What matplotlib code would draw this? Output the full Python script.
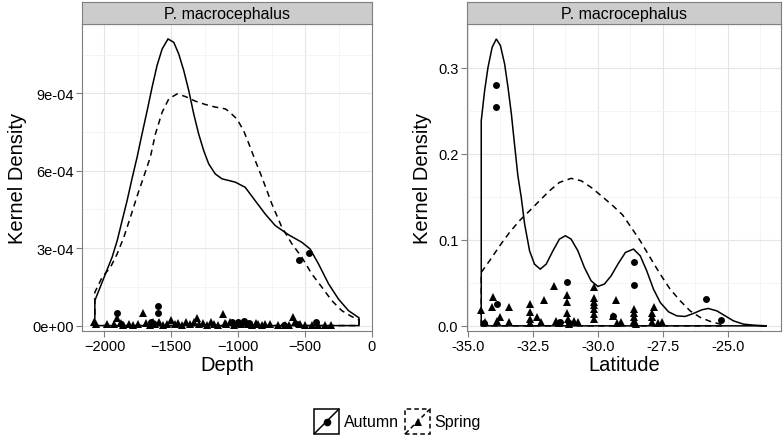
import matplotlib.pyplot as plt
from matplotlib.patches import Rectangle
from matplotlib.lines import Line2D
import numpy as np

plt.rcParams['font.family'] = ['Liberation Sans', 'DejaVu Sans']

# ---- depth panel: density outlines (density in 1e-4 units)
depth_autumn_x = [-2072, -2072, -2042, -1993, -1943, -1905, -1868, -1831, -1793, -1756,
                  -1719, -1681, -1644, -1607, -1569, -1525, -1482, -1445, -1407, -1370,
                  -1333, -1296, -1258, -1221, -1172, -1122, -1022, -948, -873, -799,
                  -724, -624, -525, -463, -400, -325, -251, -176, -97, -97]
depth_autumn_y = [0, 0.97, 1.36, 2.00, 2.65, 3.29, 4.07, 4.84, 5.72, 6.53,
                  7.43, 8.33, 9.24, 10.08, 10.72, 11.11, 10.98, 10.53, 9.88, 9.11,
                  8.21, 7.43, 6.78, 6.27, 5.88, 5.69, 5.56, 5.36, 4.84, 4.33,
                  3.88, 3.52, 3.23, 2.97, 2.39, 1.62, 1.03, 0.58, 0.30, 0]
depth_spring_x = [-2072, -2072, -2017, -1955, -1905, -1855, -1806, -1756, -1706,
                  -1657, -1619, -1569, -1519, -1457, -1396, -1321, -1246, -1172, -1097,
                  -1072, -1010, -960, -910, -873, -823, -749, -674, -599, -525,
                  -450, -375, -301, -226, -152, -97, -97]
depth_spring_y = [0, 1.29, 1.88, 2.26, 2.78, 3.43, 4.20, 5.02, 5.78,
                  6.53, 7.43, 8.27, 8.79, 8.98, 8.88, 8.70, 8.57, 8.47, 8.40,
                  8.31, 8.01, 7.56, 6.91, 6.40, 5.75, 4.72, 3.81, 3.17, 2.65,
                  2.00, 1.49, 0.97, 0.58, 0.35, 0.22, 0]

depth_pts_autumn_x = [-1907, -1602, -1602, -547, -470, -415, -1880, -1650, -1630,
                      -1050, -1000, -960, -920, -660, -560]
depth_pts_autumn_y = [0.48, 0.74, 0.48, 2.55, 2.81, 0.13, 0.05, 0.15, 0.08,
                      0.12, 0.15, 0.18, 0.10, 0.03, 0.05]
depth_pts_spring_x = [-2075, -2060, -1982, -1930, -1907, -1880, -1860, -1820, -1790, -1750,
                      -1709, -1690, -1660, -1640, -1620, -1590, -1560, -1530, -1500, -1470,
                      -1450, -1420, -1390, -1360, -1330, -1310, -1290, -1260, -1230, -1200,
                      -1180, -1150, -1116, -1100, -1090, -1060, -1030, -1000, -980, -960,
                      -930, -900, -870, -850, -820, -800, -760, -700, -650, -620,
                      -590, -575, -540, -500, -450, -400, -350, -310]
depth_pts_spring_y = [0.12, 0.05, 0.05, 0.08, 0.30, 0.10, 0.04, 0.06, 0.02, 0.08,
                      0.48, 0.10, 0.03, 0.12, 0.06, 0.15, 0.04, 0.08, 0.20, 0.05,
                      0.10, 0.03, 0.12, 0.06, 0.15, 0.29, 0.05, 0.10, 0.03, 0.12,
                      0.08, 0.04, 0.44, 0.10, 0.06, 0.15, 0.03, 0.10, 0.05, 0.12,
                      0.08, 0.04, 0.10, 0.06, 0.03, 0.08, 0.05, 0.04, 0.02, 0.03,
                      0.35, 0.12, 0.05, 0.03, 0.04, 0.03, 0.03, 0.03]

# ---- latitude panel
lat_autumn_x = [-34.49, -34.49, -34.36, -34.23, -34.07, -33.91, -33.75, -33.59, -33.46, -33.33,
                -33.21, -33.08, -32.95, -32.82, -32.63, -32.44, -32.22, -31.99, -31.73, -31.48,
                -31.25, -31.03, -30.77, -30.52, -30.26, -30.00, -29.75, -29.49, -29.23, -28.94,
                -28.63, -28.37, -28.12, -27.86, -27.60, -27.28, -26.96, -26.64, -26.32, -26.00,
                -25.75, -25.42, -25.10, -24.78, -24.40, -24.01, -23.50]
lat_autumn_y = [0, 0.2384, 0.2733, 0.3004, 0.3237, 0.3334, 0.3256, 0.3043, 0.2772, 0.2462,
                0.2113, 0.1745, 0.1493, 0.1183, 0.0872, 0.0717, 0.0659, 0.0717, 0.0872, 0.1008,
                0.1047, 0.1008, 0.0872, 0.0679, 0.0523, 0.0458, 0.0485, 0.0581, 0.0717, 0.0853,
                0.0892, 0.0814, 0.0640, 0.0427, 0.0272, 0.0163, 0.0116, 0.0109, 0.0144, 0.0186,
                0.0202, 0.0174, 0.0116, 0.0058, 0.0020, 0.0008, 0]
lat_spring_x = [-34.49, -34.49, -34.17, -33.78, -33.40, -33.02, -32.63, -32.25, -31.86, -31.48,
                -31.03, -30.64, -30.26, -29.87, -29.42, -29.05, -28.76, -28.37, -27.99, -27.60,
                -27.22, -26.83, -26.45, -26.06, -25.67, -25.29, -25.15]
lat_spring_y = [0, 0.0621, 0.0756, 0.0930, 0.1086, 0.1221, 0.1337, 0.1453, 0.1570, 0.1667,
                0.1714, 0.1686, 0.1609, 0.1512, 0.1395, 0.1290, 0.1163, 0.0988, 0.0795, 0.0601,
                0.0427, 0.0291, 0.0174, 0.0098, 0.0051, 0.0020, 0]

lat_pts_autumn_x = [-33.91, -33.91, -31.19, -28.6, -28.6, -25.83, -25.26, -33.9, -34.4,
                    -31.45, -31.1, -29.4]
lat_pts_autumn_y = [0.280, 0.2547, 0.0504, 0.0745, 0.0477, 0.031, 0.0066, 0.025, 0.003,
                    0.005, 0.003, 0.012]
lat_pts_spring_x = [-34.5, -34.36, -34.02, -34.08, -33.75, -33.9, -33.44, -33.44,
                    -32.63, -32.63, -32.63, -32.63, -32.07, -32.35, -32.2,
                    -31.68, -31.6, -31.5, -31.19, -31.19, -31.19, -31.15, -31.1, -30.75, -30.9,
                    -30.14, -30.14, -30.14, -30.14, -30.14, -30.14, -30.14,
                    -29.3, -29.4, -29.1, -29.25,
                    -28.6, -28.6, -28.6, -28.6, -28.55,
                    -27.85, -27.9, -27.9, -27.9, -27.54, -27.7]
lat_pts_spring_y = [0.018, 0.004, 0.034, 0.022, 0.010, 0.006, 0.022, 0.004,
                    0.025, 0.016, 0.008, 0.003, 0.030, 0.010, 0.004,
                    0.046, 0.006, 0.003, 0.036, 0.028, 0.015, 0.008, 0.002, 0.004, 0.006,
                    0.045, 0.032, 0.028, 0.024, 0.020, 0.014, 0.008,
                    0.030, 0.012, 0.005, 0.003,
                    0.020, 0.015, 0.010, 0.006, 0.002,
                    0.022, 0.015, 0.010, 0.005, 0.004, 0.003]

W, H = 784, 439
fig = plt.figure(figsize=(W / 100, H / 100), dpi=100)

def px_axes(x0, y0, x1, y1):
    return fig.add_axes([x0 / W, 1 - y1 / H, (x1 - x0) / W, (y1 - y0) / H])

def style(ax, xmaj, xmin_, ymaj, ymin_):
    ax.set_xticks(xmaj)
    ax.set_xticks(xmin_, minor=True)
    ax.set_yticks(ymaj)
    ax.set_yticks(ymin_, minor=True)
    ax.grid(True, which='major', color='#e5e5e5', lw=0.8)
    ax.grid(True, which='minor', color='#f2f2f2', lw=0.6)
    ax.set_axisbelow(True)
    for s in ax.spines.values():
        s.set_color('#7f7f7f')
        s.set_linewidth(0.8)
    ax.tick_params(which='major', length=4, color='#7f7f7f', width=0.8,
                   labelsize=10.5, labelcolor='black', pad=2)
    ax.tick_params(which='minor', length=0)

def strip(x0, x1, label):
    s = px_axes(x0, 3, x1, 25)
    s.set_facecolor('#cccccc')
    s.set_xticks([])
    s.set_yticks([])
    for sp in s.spines.values():
        sp.set_color('#7f7f7f')
        sp.set_linewidth(0.8)
    s.text(0.5, 0.5, label, ha='center', va='center', fontsize=11.5,
           transform=s.transAxes)

# left panel
ax1 = px_axes(82, 25, 372, 332)
style(ax1, [-2000, -1500, -1000, -500, 0], [-1750, -1250, -750, -250],
      [0, 3e-4, 6e-4, 9e-4], [1.5e-4, 4.5e-4, 7.5e-4, 10.5e-4])
sc = 1e-4
ax1.fill(depth_autumn_x, np.array(depth_autumn_y) * sc, facecolor='none',
         edgecolor='black', lw=1.1)
ax1.fill(depth_spring_x, np.array(depth_spring_y) * sc, facecolor='none',
         edgecolor='black', lw=1.1, linestyle=(0, (4, 3)))
ax1.plot(depth_pts_spring_x, np.array(depth_pts_spring_y) * sc, '^', color='black',
         ms=5.5, mew=0)
ax1.plot(depth_pts_autumn_x, np.array(depth_pts_autumn_y) * sc, 'o', color='black',
         ms=5, mew=0)
ax1.set_xlim(-2168, 0)
ax1.set_ylim(-2.1e-5, 1.169e-3)
ax1.set_yticklabels(['0e+00', '3e-04', '6e-04', '9e-04'])
ax1.set_xlabel('Depth', fontsize=14.5, labelpad=1)
ax1.set_ylabel('Kernel Density', fontsize=14.5, labelpad=4)
strip(82, 372, 'P. macrocephalus')

# right panel
ax2 = px_axes(466.7, 25, 781, 332)
style(ax2, [-35, -32.5, -30, -27.5, -25], [-33.75, -31.25, -28.75, -26.25, -23.75],
      [0, 0.1, 0.2, 0.3], [0.05, 0.15, 0.25])
ax2.fill(lat_autumn_x, lat_autumn_y, facecolor='none', edgecolor='black', lw=1.1)
ax2.fill(lat_spring_x, lat_spring_y, facecolor='none', edgecolor='black', lw=1.1,
         linestyle=(0, (4, 3)))
ax2.plot(lat_pts_spring_x, lat_pts_spring_y, '^', color='black', ms=5.5, mew=0)
ax2.plot(lat_pts_autumn_x, lat_pts_autumn_y, 'o', color='black', ms=5, mew=0)
ax2.set_xlim(-35.05, -22.95)
ax2.set_ylim(-0.006, 0.3508)
ax2.set_xticklabels(['-35.0', '-32.5', '-30.0', '-27.5', '-25.0'])
ax2.set_yticklabels(['0.0', '0.1', '0.2', '0.3'])
ax2.set_xlabel('Latitude', fontsize=14.5, labelpad=1)
ax2.set_ylabel('Kernel Density', fontsize=14.5, labelpad=4)
strip(466.7, 781, 'P. macrocephalus')

# legend keys
def key(x0, ls, marker):
    k = px_axes(x0, 409, x0 + 27, 436)
    k.set_xlim(0, 1)
    k.set_ylim(0, 1)
    k.set_xticks([])
    k.set_yticks([])
    for sp in k.spines.values():
        sp.set_visible(False)
    k.add_patch(Rectangle((0.03, 0.03), 0.94, 0.94, fill=False, lw=1.1,
                          linestyle=ls, edgecolor='black'))
    k.add_line(Line2D([0.05, 0.95], [0.05, 0.95], color='black', lw=1.1, linestyle=ls))
    k.plot([0.5], [0.5], marker, color='black', ms=5.5, mew=0)

key(313, '-', 'o')
fig.text(344 / W, 1 - 423 / H, 'Autumn', fontsize=11.5, va='center', ha='left')
key(404, (0, (3, 2)), '^')
fig.text(434 / W, 1 - 423 / H, 'Spring', fontsize=11.5, va='center', ha='left')

fig.savefig('out.png', dpi=100)
